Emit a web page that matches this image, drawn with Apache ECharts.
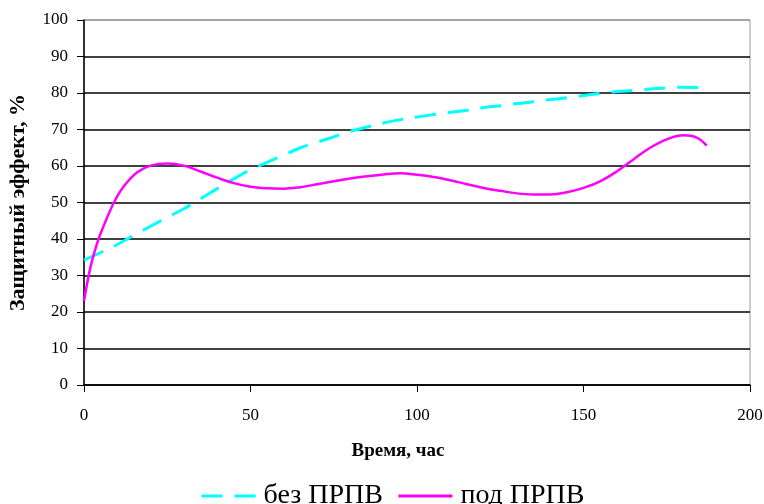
<!DOCTYPE html>
<html>
<head>
<meta charset="utf-8">
<script src="https://cdn.jsdelivr.net/npm/echarts@6/dist/echarts.min.js"></script>
<style>html,body{margin:0;padding:0;background:#fff}#c{width:764px;height:504px}</style>
</head>
<body>
<div id="c"></div>
<script>
var seriesNames = ['без ПРПВ', 'под ПРПВ'];
var xTitle = 'Время, час';
var yTitle = 'Защитный эффект, %';

var cyanX = [0, 5, 10, 15, 20, 25, 30, 35, 40, 45, 50, 55, 60, 65, 70, 75, 80, 85, 90, 95, 100, 105, 110, 115, 120, 125, 130, 135, 140, 145, 150, 155, 160, 165, 170, 175, 180, 184, 187];
var cyanY = [34.2, 36.3, 38.5, 41, 43.5, 45.9, 48.3, 51, 53.8, 56.5, 59, 61, 63, 65, 66.5, 68, 69.5, 70.7, 71.8, 72.7, 73.4, 74.1, 74.7, 75.3, 76, 76.5, 77.1, 77.6, 78.2, 78.7, 79.3, 79.9, 80.4, 80.7, 81.1, 81.4, 81.6, 81.5, 81];

var magX = [0, 2, 4, 6, 9, 12, 16, 20, 25, 30, 35, 40, 45, 50, 55, 60, 65, 70, 75, 80, 85, 90, 95, 100, 105, 110, 115, 120, 125, 130, 135, 140, 145, 150, 155, 160, 165, 170, 175, 180, 184, 187];
var magY = [23, 32.5, 39, 43.8, 50, 54.5, 58.3, 60.1, 60.7, 60.1, 58.5, 56.8, 55.3, 54.3, 53.9, 53.8, 54.2, 55, 55.8, 56.6, 57.2, 57.7, 58, 57.6, 57, 56.1, 55, 54, 53.2, 52.5, 52.2, 52.2, 52.8, 54, 55.8, 58.5, 61.8, 65, 67.3, 68.4, 67.8, 65.6];

function pairs(xs, ys) { return xs.map(function (x, i) { return [x, ys[i]]; }); }

var font = 'Liberation Serif';
var chart = echarts.init(document.getElementById('c'));
var splitColors = ['#000','#000','#000','#000','#000','#000','#000','#000','#000','#000','#999'];
chart.setOption({
  animation: false,
  grid: { left: 84, right: 14, top: 20, bottom: 119, show: true, borderColor: '#999', borderWidth: 1, backgroundColor: 'transparent', outerBoundsMode: 'none', containLabel: false },
  xAxis: {
    type: 'value', min: 0, max: 200, interval: 50,
    name: xTitle, nameLocation: 'middle', nameGap: 57,
    nameTextStyle: { fontFamily: font, fontWeight: 'bold', fontSize: 19, color: '#000', padding: [0, 38, 0, 0] },
    axisLine: { show: true, onZero: false, lineStyle: { color: '#000', width: 1.5 } },
    axisTick: { show: true, inside: false, length: 7, lineStyle: { color: '#000' } },
    axisLabel: { fontFamily: font, fontSize: 17, color: '#000', margin: 22 },
    splitLine: { show: false }
  },
  yAxis: {
    type: 'value', min: 0, max: 100, interval: 10,
    name: yTitle, nameLocation: 'middle', nameGap: 55, nameRotate: 90,
    nameTextStyle: { fontFamily: font, fontWeight: 'bold', fontSize: 22, color: '#000' },
    axisLine: { show: true, lineStyle: { color: '#000', width: 1.5 } },
    axisTick: { show: true, inside: false, length: 7, lineStyle: { color: '#000' } },
    axisLabel: { fontFamily: font, fontSize: 17, color: '#000', margin: 16 },
    splitLine: { show: true, lineStyle: { color: splitColors, width: 1.5 } }
  },
  legend: {
    left: 195, top: 477, itemWidth: 54, itemHeight: 14, itemGap: 14,
    itemStyle: { opacity: 0 },
    textStyle: { fontFamily: font, fontSize: 28, color: '#000', padding: [0, 0, 0, 3] },
    data: [
      { name: seriesNames[0], lineStyle: { type: [21, 12], width: 3, color: '#00FFFF' } },
      { name: seriesNames[1], lineStyle: { width: 3, color: '#FF00FF' } }
    ]
  },
  series: [
    {
      name: seriesNames[0], type: 'line', smooth: 0.4, symbol: 'none',
      data: pairs(cyanX, cyanY),
      lineStyle: { color: '#00FFFF', width: 3, type: [21, 12] },
      itemStyle: { color: '#00FFFF' }
    },
    {
      name: seriesNames[1], type: 'line', smooth: 0.4, symbol: 'none',
      data: pairs(magX, magY),
      lineStyle: { color: '#FF00FF', width: 2.5 },
      itemStyle: { color: '#FF00FF' }
    }
  ]
});
</script>
</body>
</html>
